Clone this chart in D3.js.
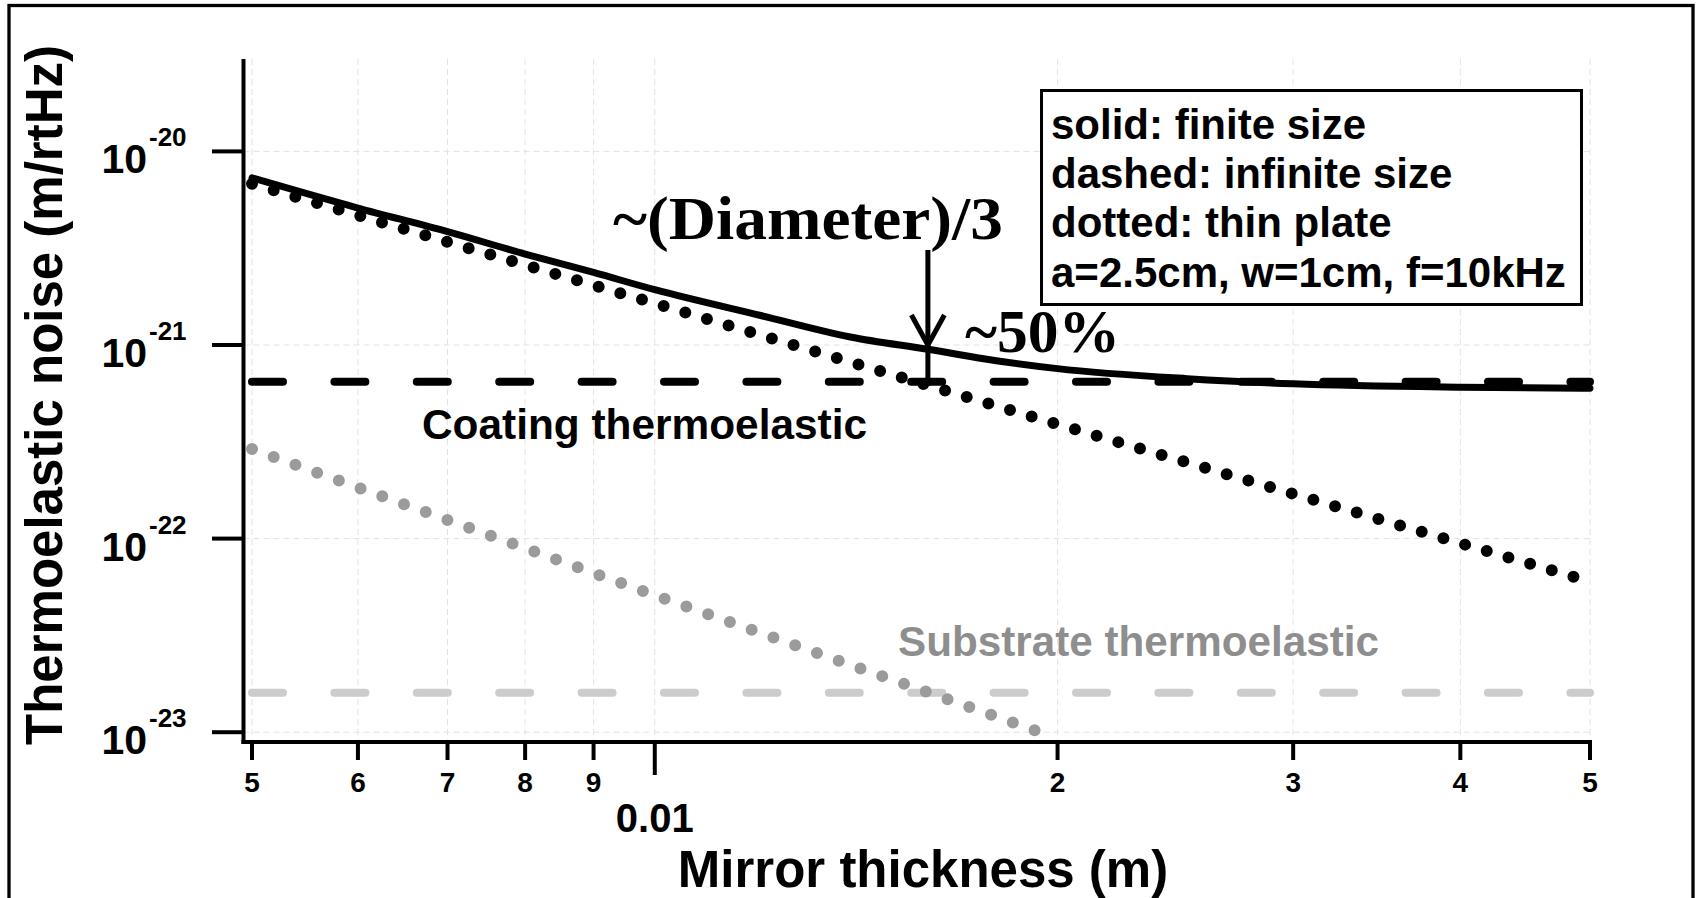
<!DOCTYPE html>
<html>
<head>
<meta charset="utf-8">
<script src="https://cdn.jsdelivr.net/npm/d3@7"></script>
<style>
  html, body { margin: 0; padding: 0; background: #fff; }
  svg { display: block; }
  text { font-family: "Liberation Sans", Arial, Helvetica, sans-serif; font-weight: bold; }
  .serif { font-family: "Liberation Serif", "Times New Roman", serif; font-weight: bold; }
</style>
</head>
<body>
<svg id="chart" width="1696" height="898"></svg>
<script>
// ---------------- data ----------------
const xTicks = [0.005, 0.006, 0.007, 0.008, 0.009, 0.01, 0.02, 0.03, 0.04, 0.05];
const xTickLabels = ["5", "6", "7", "8", "9", "0.01", "2", "3", "4", "5"];
const xMajorTicks = [0.01];
const yTicks = [1e-20, 1e-21, 1e-22, 1e-23];
const yTickExponents = ["-20", "-21", "-22", "-23"];

// coating thermoelastic, finite size (solid)
const finiteThickness = [0.005, 0.006, 0.007, 0.008, 0.009, 0.010, 0.012, 0.014, 0.016, 0.018, 0.020, 0.025, 0.030, 0.040, 0.050];
const finiteNoise     = [7.3e-21, 5.1e-21, 3.85e-21, 2.95e-21, 2.37e-21, 1.93e-21, 1.42e-21, 1.10e-21, 9.5e-22, 8.3e-22, 7.55e-22, 6.7e-22, 6.3e-22, 6.05e-22, 5.98e-22];

// coating thermoelastic, thin plate (dotted black)
const coatingPlateThickness = [0.005, 0.01, 0.02, 0.05];
const coatingPlateNoise     = [6.8e-21, 1.64e-21, 3.9e-22, 6.0e-23];

// coating thermoelastic, infinite size (dashed black)
const coatingInfiniteThickness = [0.005, 0.05];
const coatingInfiniteNoise     = [6.45e-22, 6.45e-22];

// substrate thermoelastic, thin plate (dotted gray)
const substratePlateThickness = [0.005, 0.01, 0.0194];
const substratePlateNoise     = [2.9e-22, 5.1e-23, 1.0e-23];

// substrate thermoelastic, infinite size (dashed gray)
const substrateInfiniteThickness = [0.005, 0.05];
const substrateInfiniteNoise     = [1.6e-23, 1.6e-23];

const legendLines = ["solid: finite size", "dashed: infinite size", "dotted: thin plate", "a=2.5cm, w=1cm, f=10kHz"];
const arrowThickness = 0.016;
const arrowTipNoise = 1e-21;

// ---------------- layout ----------------
const svg = d3.select("#chart");
const x = d3.scaleLog().domain([0.005, 0.05]).range([252, 1590]);
const y = d3.scaleLog().domain([1e-23, 1e-20]).range([732.2, 151.4]);
const axisX = 243.5, axisY = 742, plotTop = 59, plotRight = 1590;

// outer frame
svg.append("rect").attr("x", 9).attr("y", 5.5).attr("width", 1684).attr("height", 910)
  .attr("fill", "none").attr("stroke", "#000").attr("stroke-width", 3.3);

// grid
const grid = svg.append("g").attr("stroke", "#e2e2e2").attr("stroke-width", 1).attr("stroke-dasharray", "6 4");
grid.selectAll(".vg").data(xTicks).enter().append("line")
  .attr("x1", d => x(d)).attr("x2", d => x(d)).attr("y1", plotTop).attr("y2", axisY);
grid.selectAll(".hg").data(yTicks).enter().append("line")
  .attr("x1", axisX).attr("x2", plotRight).attr("y1", d => y(d)).attr("y2", d => y(d));

// series
const line = (xs, ys, curve) => d3.line().x((d, i) => x(xs[i])).y((d, i) => y(ys[i])).curve(curve || d3.curveLinear)(xs);

svg.append("path").attr("d", line(substrateInfiniteThickness, substrateInfiniteNoise))
  .attr("fill", "none").attr("stroke", "#cccccc").attr("stroke-width", 8)
  .attr("stroke-linecap", "round").attr("stroke-dasharray", "31 51.4");

svg.append("path").attr("d", line(substratePlateThickness, substratePlateNoise))
  .attr("fill", "none").attr("stroke", "#9b9b9b").attr("stroke-width", 12)
  .attr("stroke-linecap", "round").attr("stroke-dasharray", "0 23.1");

svg.append("path").attr("d", line(coatingInfiniteThickness, coatingInfiniteNoise))
  .attr("fill", "none").attr("stroke", "#000").attr("stroke-width", 8)
  .attr("stroke-linecap", "round").attr("stroke-dasharray", "31 51.4");

svg.append("path").attr("d", line(coatingPlateThickness, coatingPlateNoise))
  .attr("fill", "none").attr("stroke", "#000").attr("stroke-width", 12)
  .attr("stroke-linecap", "round").attr("stroke-dasharray", "0 22.6");

svg.append("path").attr("d", line(finiteThickness, finiteNoise, d3.curveMonotoneX))
  .attr("fill", "none").attr("stroke", "#000").attr("stroke-width", 7)
  .attr("stroke-linecap", "round").attr("stroke-linejoin", "round");

// axes
svg.append("line").attr("x1", axisX).attr("x2", axisX).attr("y1", plotTop).attr("y2", axisY + 2)
  .attr("stroke", "#000").attr("stroke-width", 4);
svg.append("line").attr("x1", axisX - 2).attr("x2", plotRight + 2).attr("y1", axisY).attr("y2", axisY)
  .attr("stroke", "#000").attr("stroke-width", 4);

// x ticks
svg.selectAll(".xt").data(xTicks).enter().append("line")
  .attr("x1", d => x(d)).attr("x2", d => x(d)).attr("y1", axisY)
  .attr("y2", d => xMajorTicks.includes(d) ? 775 : 760)
  .attr("stroke", "#000").attr("stroke-width", 4);
svg.selectAll(".xl").data(xTicks).enter().append("text")
  .attr("x", d => x(d))
  .attr("y", d => xMajorTicks.includes(d) ? 832 : 792)
  .attr("text-anchor", "middle")
  .attr("font-size", d => xMajorTicks.includes(d) ? 40 : 28)
  .text((d, i) => xTickLabels[i]);

// y ticks
svg.selectAll(".yt").data(yTicks).enter().append("line")
  .attr("x1", 212).attr("x2", axisX).attr("y1", d => y(d)).attr("y2", d => y(d))
  .attr("stroke", "#000").attr("stroke-width", 4);
svg.selectAll(".yl").data(yTicks).enter().append("text")
  .attr("x", 147).attr("y", d => y(d) + 22).attr("text-anchor", "end")
  .attr("font-size", 41).text("10");
svg.selectAll(".ye").data(yTicks).enter().append("text")
  .attr("x", 149).attr("y", d => y(d) - 5).attr("text-anchor", "start")
  .attr("font-size", 26).text((d, i) => yTickExponents[i]);

// axis titles
svg.append("text").attr("x", 923).attr("y", 887).attr("text-anchor", "middle")
  .attr("font-size", 51).text("Mirror thickness (m)");
svg.append("text").attr("transform", "translate(62,395) rotate(-90)").attr("text-anchor", "middle")
  .attr("font-size", 51).text("Thermoelastic noise (m/rtHz)");

// legend box
svg.append("rect").attr("x", 1041.5).attr("y", 90.5).attr("width", 540).attr("height", 214)
  .attr("fill", "#fff").attr("stroke", "#000").attr("stroke-width", 3);
svg.selectAll(".lg").data(legendLines).enter().append("text")
  .attr("x", 1051).attr("y", (d, i) => 139 + i * 49.2)
  .attr("font-size", 42).text(d => d);

// labels
svg.append("text").attr("x", 422).attr("y", 439).attr("font-size", 42.3)
  .attr("textLength", 445).attr("lengthAdjust", "spacingAndGlyphs").text("Coating thermoelastic");
svg.append("text").attr("x", 898).attr("y", 656).attr("font-size", 43).attr("fill", "#8e8e8e")
  .attr("textLength", 481).attr("lengthAdjust", "spacingAndGlyphs").text("Substrate thermoelastic");

svg.append("text").attr("class", "serif").attr("x", 613).attr("y", 239).attr("font-size", 62)
  .attr("textLength", 390).attr("lengthAdjust", "spacingAndGlyphs").text("~(Diameter)/3");
svg.append("text").attr("class", "serif").attr("x", 965).attr("y", 352).attr("font-size", 62)
  .attr("textLength", 155).attr("lengthAdjust", "spacingAndGlyphs").text("~50%");

// arrow
const ax = x(arrowThickness), tipY = y(arrowTipNoise);
svg.append("line").attr("x1", ax).attr("x2", ax).attr("y1", 250).attr("y2", y(coatingInfiniteNoise[0]) + 4)
  .attr("stroke", "#000").attr("stroke-width", 5);
svg.append("polyline")
  .attr("points", `${ax - 16.5},${tipY - 30} ${ax},${tipY} ${ax + 16.5},${tipY - 30}`)
  .attr("fill", "none").attr("stroke", "#000").attr("stroke-width", 5).attr("stroke-linejoin", "miter");
</script>
</body>
</html>
